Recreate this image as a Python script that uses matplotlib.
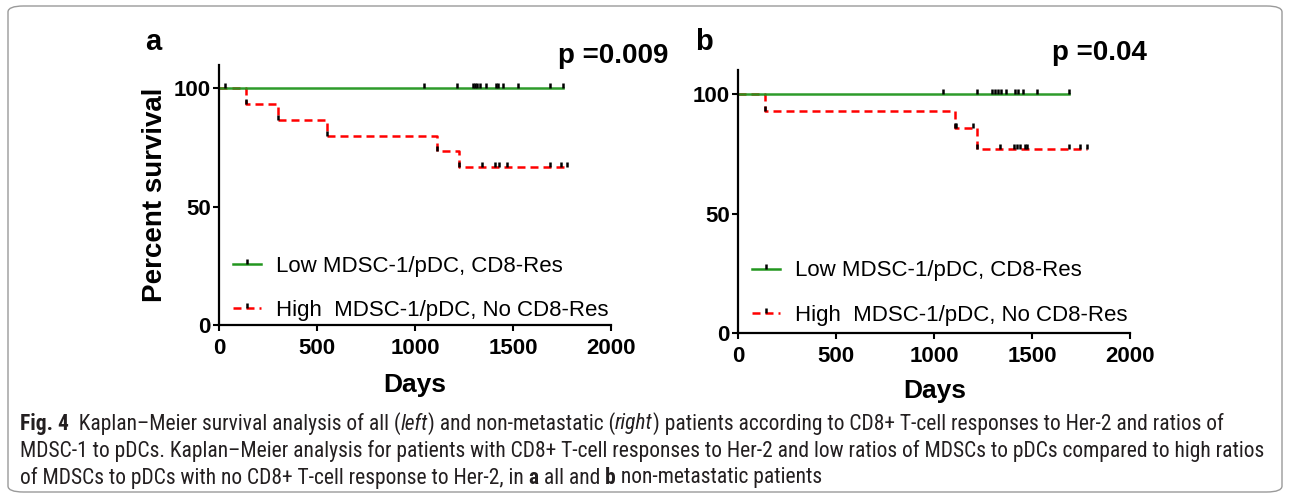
import matplotlib
matplotlib.use("Agg")
import matplotlib.pyplot as plt
import matplotlib.font_manager as fm
from matplotlib.lines import Line2D
from matplotlib.patches import FancyBboxPatch

plt.rcParams['font.family'] = ['Liberation Sans', 'DejaVu Sans']

# ---------------- data ----------------
x_ticks = [0, 500, 1000, 1500, 2000]
y_ticks = [0, 50, 100]
series_labels = ["Low MDSC-1/pDC, CD8-Res", "High  MDSC-1/pDC, No CD8-Res"]

# panel a (all patients)
a_low_times = [0, 1753]
a_low_surv = [100, 100]
a_low_censor = [30, 1047, 1215, 1295, 1305, 1315, 1330, 1362, 1412, 1425, 1450, 1523, 1690, 1753]
a_high_times = [0, 135, 298, 551, 1110, 1224, 1773]
a_high_surv = [100, 93.3, 86.7, 80.0, 73.3, 66.7, 66.7]
a_high_censor = [1339, 1410, 1430, 1467, 1690, 1745, 1773]
a_pvalue = "p =0.009"

# panel b (non-metastatic patients)
b_low_times = [0, 1689]
b_low_surv = [100, 100]
b_low_censor = [1046, 1216, 1295, 1310, 1325, 1340, 1364, 1413, 1425, 1451, 1522, 1689]
b_high_times = [0, 136, 1105, 1219, 1778]
b_high_surv = [100, 92.9, 85.7, 77.1, 77.1]
b_high_censor = [1112, 1198, 1335, 1405, 1420, 1437, 1465, 1475, 1689, 1745, 1778]
b_pvalue = "p =0.04"

GREEN = "#22961f"
RED = "#ff0000"
DASH = (0, (3.2, 2.0))

fig = plt.figure(figsize=(12.9, 5.0), dpi=100)

# rounded border
fig.patches.append(FancyBboxPatch((8 / 1290, 8 / 500), 1274 / 1290, 486 / 500,
                                  boxstyle="round,pad=0,rounding_size=0.012",
                                  transform=fig.transFigure, fill=False,
                                  edgecolor="#9a9a9a", linewidth=1.0))


def level_at(times, surv, t):
    val = surv[0]
    for ti, si in zip(times, surv):
        if ti <= t:
            val = si
    return val


TICK_KW = dict(linestyle="none", marker=2, color="black", markersize=3.5, mew=1.8, zorder=4)


def km_panel(ax, low_t, low_s, low_c, high_t, high_s, high_c):
    ax.step(high_t, high_s, where="post", color=RED, lw=1.8, linestyle=DASH, zorder=2)
    ax.plot(high_t[1:-1], high_s[1:-1], **TICK_KW)
    ax.plot(high_c, [level_at(high_t, high_s, t) for t in high_c], **TICK_KW)
    ax.step(low_t, low_s, where="post", color=GREEN, lw=1.8, zorder=3, alpha=0.95)
    ax.plot(low_c, [level_at(low_t, low_s, t) for t in low_c], **TICK_KW)

    ax.set_xlim(0, 2000)
    ax.set_ylim(0, 110)
    ax.set_xticks(x_ticks)
    ax.set_yticks(y_ticks)
    ax.set_xticklabels([str(v) for v in x_ticks], fontweight="bold")
    ax.set_yticklabels([str(v) for v in y_ticks], fontweight="bold")
    ax.tick_params(axis="both", labelsize=16, length=4, width=1.5, color="black",
                   direction="out")
    ax.tick_params(axis="x", pad=5.5)
    ax.tick_params(axis="y", pad=2)
    for s in ("top", "right"):
        ax.spines[s].set_visible(False)
    for s in ("left", "bottom"):
        ax.spines[s].set_linewidth(1.6)
        ax.spines[s].set_color("black")
    ax.spines["left"].set_zorder(5)
    ax.set_xlabel("Days", fontsize=19, fontweight="bold")

    handles = [Line2D([0], [0], color=GREEN, lw=1.8, marker=2, markeredgecolor="black",
                      markersize=3.5, mew=1.8),
               Line2D([0], [0], color=RED, lw=1.8, linestyle=DASH, marker=2,
                      markeredgecolor="black", markersize=3.5, mew=1.8)]
    return handles


LEG_KW = dict(frameon=False, fontsize=16, handlelength=1.25, handletextpad=0.7,
              labelspacing=1.05, borderpad=0, borderaxespad=0, numpoints=1)

ax_a = fig.add_axes([219.3 / 1290, 175 / 500, 391.7 / 1290, 260.4 / 500])
h = km_panel(ax_a, a_low_times, a_low_surv, a_low_censor,
             a_high_times, a_high_surv, a_high_censor)
ax_a.set_ylabel("Percent survival", fontsize=20, fontweight="bold", labelpad=4)
ax_a.xaxis.set_label_coords(0.5, -0.185)
ax_a.legend(h, series_labels, loc="center left", bbox_to_anchor=(0.035, 0.14), **LEG_KW)

ax_b = fig.add_axes([738.3 / 1290, 166.7 / 500, 392 / 1290, 262.9 / 500])
h = km_panel(ax_b, b_low_times, b_low_surv, b_low_censor,
             b_high_times, b_high_surv, b_high_censor)
ax_b.xaxis.set_label_coords(0.5, -0.172)
ax_b.legend(h, series_labels, loc="center left", bbox_to_anchor=(0.035, 0.153), **LEG_KW)


def fx(px):
    return px / 1290


def fy(py):
    return 1 - py / 500


fig.text(fx(153), fy(42), "a", fontsize=21, fontweight="bold", ha="center", va="center")
fig.text(fx(704), fy(42), "b", fontsize=21, fontweight="bold", ha="center", va="center")
fig.text(fx(668), fy(56), a_pvalue, fontsize=20, fontweight="bold", ha="right", va="center")
fig.text(fx(1147), fy(53), b_pvalue, fontsize=20, fontweight="bold", ha="right", va="center")

# ---------------- caption ----------------
names = {f.name for f in fm.fontManager.ttflist}
cap_family = ['Liberation Sans', 'DejaVu Sans']
cap_stretch = "normal"
for cand in ['Roboto Condensed', 'Open Sans Condensed', 'Noto Sans Condensed',
             'Liberation Sans Narrow', 'DejaVu Sans Condensed', 'Arial Narrow']:
    if cand in names:
        cap_family = [cand, 'DejaVu Sans']
        break
else:
    for f in fm.fontManager.ttflist:
        if f.name in ('Open Sans', 'Noto Sans', 'Roboto') and f.stretch in (
                'condensed', 'semi-condensed', 'extra-condensed', 375, 250, 300):
            cap_family = [f.name, 'DejaVu Sans']
            cap_stretch = 'condensed'
            break

cap_color = "#231f20"
caption_lines = [
    [("Fig. 4", "b"), ("  Kaplan\u2013Meier survival analysis of all (", "n"), ("left", "i"),
     (") and non-metastatic (", "n"), ("right", "i"),
     (") patients according to CD8+ T-cell responses to Her-2 and ratios of", "n")],
    [("MDSC-1 to pDCs. Kaplan\u2013Meier analysis for patients with CD8+ T-cell responses to "
      "Her-2 and low ratios of MDSCs to pDCs compared to high ratios", "n")],
    [("of MDSCs to pDCs with no CD8+ T-cell response to Her-2, in ", "n"), ("a", "b"),
     (" all and ", "n"), ("b", "b"), (" non-metastatic patients", "n")],
]
caption_y = [424, 451, 478]

renderer = fig.canvas.get_renderer()


def style_kw(st, size):
    kw = dict(fontsize=size, family=cap_family, color=cap_color, fontstretch=cap_stretch)
    if st == "b":
        kw["fontweight"] = "bold"
    elif st == "i":
        kw["fontstyle"] = "italic"
    return kw


def seg_width(txt, st, size):
    t1 = fig.text(0, 0, "|" + txt + "|", **style_kw(st, size))
    t2 = fig.text(0, 0, "||", **style_kw(st, size))
    w = t1.get_window_extent(renderer).width - t2.get_window_extent(renderer).width
    t1.remove()
    t2.remove()
    return w


base = 12.0
w2 = sum(seg_width(t, s, base) for t, s in caption_lines[1])
cap_size = base * 1248 / w2

for line, ypx in zip(caption_lines, caption_y):
    x = 20.0
    for txt, st in line:
        fig.text(fx(x), fy(ypx), txt, va="center", ha="left", **style_kw(st, cap_size))
        x += seg_width(txt, st, cap_size)

fig.savefig("out.png", dpi=100)
